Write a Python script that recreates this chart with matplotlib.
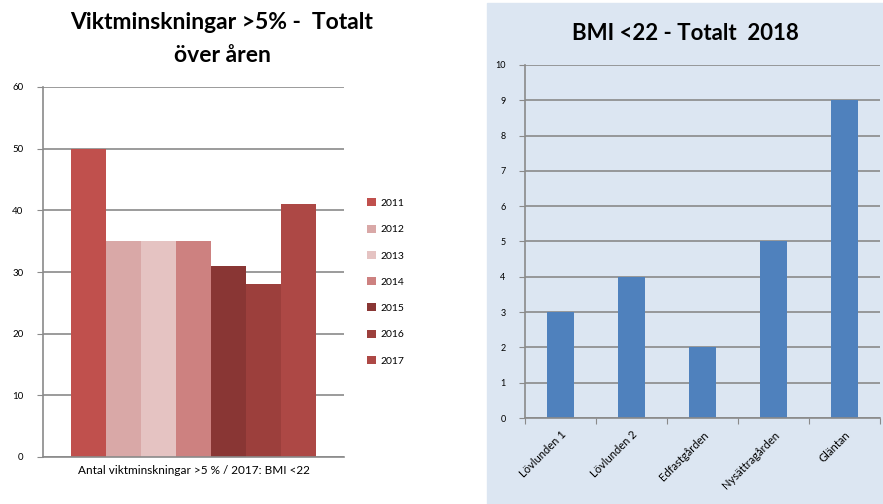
import matplotlib.pyplot as plt
from matplotlib.patches import Rectangle

years = ['2011', '2012', '2013', '2014', '2015', '2016', '2017']
loss = [50, 35, 35, 35, 31, 28, 41]
year_colors = ['#c0504d', '#d9a8a7', '#e5c3c2', '#cd8180', '#893634', '#9c3f3c', '#ad4845']

places = ['Lövlunden 1', 'Lövlunden 2', 'Edfastgården', 'Nysättragården', 'Gläntan']
bmi = [3, 4, 2, 5, 9]

plt.rcParams['font.family'] = ['Lato', 'DejaVu Sans']
W, H = 883, 504
fig = plt.figure(figsize=(W / 100, H / 100), dpi=100)

# right panel background
fig.patches.append(Rectangle((487 / W, 0), (W - 487) / W, 1 - 3 / H,
                             transform=fig.transFigure, color='#dce6f2', zorder=-10))

grid_c = '#8a8a8a'

# left chart
ax1 = fig.add_axes([43 / W, 1 - 457 / H, 301 / W, 370 / H])
gw = 245 / 301
bw = gw / len(years)
for i, (y, v, c) in enumerate(zip(years, loss, year_colors)):
    ax1.bar(-gw / 2 + bw * (i + 0.5), v, width=bw, color=c, label=y, zorder=2)
ax1.set_xlim(-0.5, 0.5)
ax1.set_ylim(0, 60)
ax1.set_yticks(range(0, 61, 10))
ax1.yaxis.grid(True, color=grid_c, linewidth=1.2, zorder=1)
ax1.set_xticks([])
for s in ['top', 'right']:
    ax1.spines[s].set_visible(False)
for s in ['left', 'bottom']:
    ax1.spines[s].set_color(grid_c)
    ax1.spines[s].set_linewidth(1.2)
ax1.tick_params(axis='y', labelsize=7, length=4, color=grid_c, pad=10)
ax1.set_xlabel('Antal viktminskningar >5 % / 2017: BMI <22', fontsize=8.5, labelpad=6)
fig.text(222 / W, 1 - 39 / H, 'Viktminskningar >5% -  Totalt\növer åren',
         ha='center', va='center', fontsize=16.5, fontweight='bold', linespacing=1.7)
ax1.legend(loc='center left', bbox_to_anchor=(358 / W, 1 - 282 / H), bbox_transform=fig.transFigure,
           frameon=False, fontsize=7.5, handlelength=0.8, handleheight=0.8,
           labelspacing=1.6, handletextpad=0.5)

# right chart
ax2 = fig.add_axes([525 / W, 1 - 418 / H, 355 / W, 353 / H])
ax2.set_facecolor('none')
ax2.bar(range(len(places)), bmi, width=0.39, color='#4f81bd', zorder=2)
ax2.set_xlim(-0.5, len(places) - 0.5)
ax2.set_ylim(0, 10)
ax2.set_yticks(range(0, 11))
ax2.yaxis.grid(True, color=grid_c, linewidth=1.2, zorder=1)
ax2.set_xticks([i + 0.5 for i in range(-1, len(places))], minor=False)
ax2.set_xticklabels([])
ax2.set_xticks(range(len(places)), minor=True)
ax2.set_xticklabels(places, minor=True, rotation=45, ha='right', rotation_mode='anchor', fontsize=8)
ax2.tick_params(axis='x', which='minor', length=0, pad=8)
ax2.tick_params(axis='x', which='major', length=4, color=grid_c)
for s in ['top', 'right']:
    ax2.spines[s].set_visible(False)
for s in ['left', 'bottom']:
    ax2.spines[s].set_color(grid_c)
    ax2.spines[s].set_linewidth(1.2)
ax2.tick_params(axis='y', labelsize=6.5, length=4, color=grid_c, pad=10)
fig.text(685 / W, 1 - 33 / H, 'BMI <22 - Totalt  2018', ha='center', va='center',
         fontsize=16, fontweight='bold')

fig.savefig('out.png', dpi=100)
